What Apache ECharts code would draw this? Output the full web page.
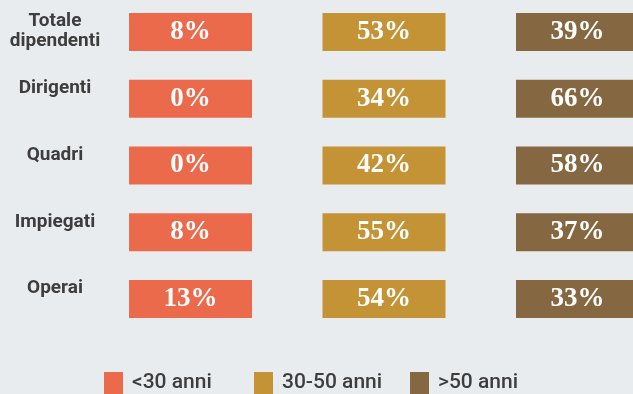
<!DOCTYPE html>
<html>
<head>
<meta charset="utf-8">
<script src="https://cdn.jsdelivr.net/npm/echarts@6/dist/echarts.min.js"></script>
<style>
  html, body { margin: 0; padding: 0; background: #e9ecef; }
  #chart { width: 633px; height: 394px; }
</style>
</head>
<body>
<div id="chart"></div>
<script>
// Workforce by role and age band (percent)
const roles = ['Totale\ndipendenti', 'Dirigenti', 'Quadri', 'Impiegati', 'Operai'];
const ageGroups = ['<30 anni', '30-50 anni', '>50 anni'];
const under30 = [8, 0, 0, 8, 13];
const from30to50 = [53, 34, 42, 55, 54];
const over50 = [39, 66, 58, 37, 33];
const groupValues = [under30, from30to50, over50];
const groupColors = ['#ec6a4c', '#c49335', '#856841'];

const textColor = '#3d3d3d';
const sansFont = 'Roboto, "Liberation Sans", sans-serif';
const serifFont = '"Liberation Serif", "DejaVu Serif", serif';

const series = ageGroups.map((name, gi) => ({
  name: name,
  type: 'scatter',
  symbol: 'rect',
  symbolSize: [123, 38],
  itemStyle: { color: groupColors[gi], opacity: 1 },
  clip: false,
  label: {
    show: true,
    position: 'inside',
    formatter: p => p.value[2] + '%',
    color: '#ffffff',
    fontFamily: serifFont,
    fontWeight: 'bold',
    fontSize: 27
  },
  emphasis: { disabled: true },
  data: roles.map((r, ri) => [gi, ri, groupValues[gi][ri]])
}));

// one legend per age band so each entry sits on its own spot along the bottom
const legendLefts = [104, 254, 410];
const legends = ageGroups.map((name, gi) => ({
  data: [name],
  left: legendLefts[gi],
  top: 372,
  padding: 0,
  icon: 'rect',
  itemWidth: 19,
  itemHeight: 22,
  selectedMode: false,
  textStyle: {
    color: textColor,
    fontFamily: sansFont,
    fontWeight: 500,
    fontSize: 21,
    padding: [4, 0, 0, 4]
  }
}));

const chart = echarts.init(document.getElementById('chart'), null, { renderer: 'canvas' });
chart.setOption({
  backgroundColor: '#e9ecef',
  animation: false,
  legend: legends,
  grid: {
    left: 93.75, width: 580.5, top: -1.375, height: 333.75,
    containLabel: false, outerBoundsMode: 'none'
  },
  xAxis: {
    type: 'category',
    data: ageGroups,
    show: false
  },
  yAxis: {
    type: 'category',
    data: roles,
    inverse: true,
    axisLine: { show: false },
    axisTick: { show: false },
    splitLine: { show: false },
    axisLabel: {
      margin: 38.75,
      align: 'center',
      verticalAlign: 'middle',
      // role names sit level with the top edge of their row's boxes
      formatter: value => {
        const lines = value.split('\n');
        const spacer = lines.length > 1 ? 's2' : 's1';
        return lines.map(l => '{t|' + l + '}').join('\n') + '\n{' + spacer + '| }';
      },
      rich: {
        t: { fontFamily: sansFont, fontWeight: 'bold', fontSize: 19, lineHeight: 20, color: textColor, align: 'center' },
        s1: { fontSize: 1, lineHeight: 21 },
        s2: { fontSize: 1, lineHeight: 2.5 }
      }
    }
  },
  series: series
});
</script>
</body>
</html>
